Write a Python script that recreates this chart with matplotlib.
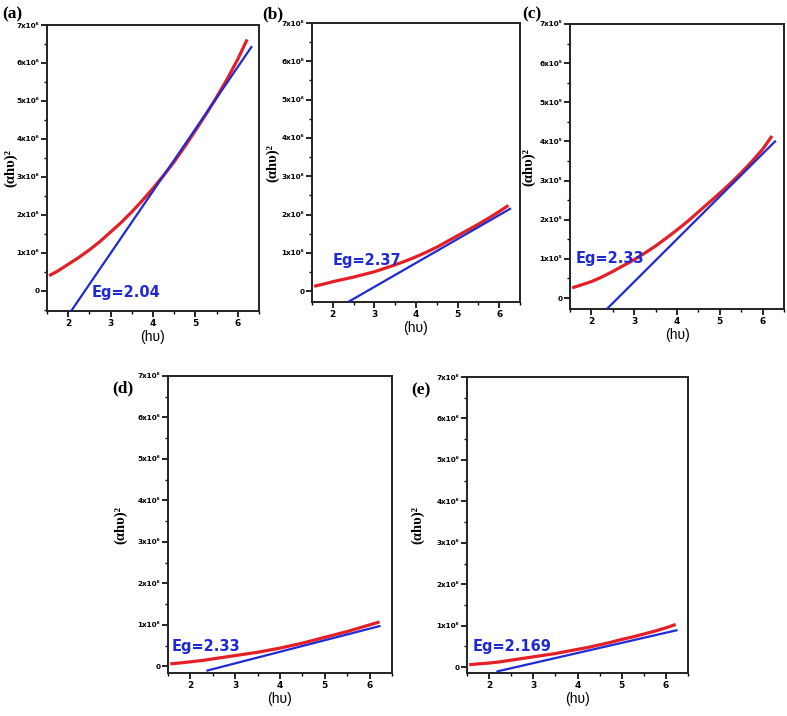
import matplotlib
matplotlib.use("Agg")
import matplotlib.pyplot as plt
from matplotlib.ticker import MultipleLocator, FuncFormatter

# ---------------- data ----------------
x_red = [1.55, 1.75, 2.0, 2.25, 2.5, 2.75, 3.0, 3.25, 3.5, 3.75,
         4.0, 4.25, 4.5, 4.75, 5.0, 5.25, 5.5, 5.75, 6.0, 6.22]

red_a = [0.40e6, 0.52e6, 0.70e6, 0.88e6, 1.08e6, 1.30e6, 1.55e6, 1.80e6, 2.08e6, 2.38e6,
         2.70e6, 3.04e6, 3.40e6, 3.80e6, 4.22e6, 4.65e6, 5.10e6, 5.58e6, 6.10e6, 6.62e6]
red_b = [0.13e6, 0.18e6, 0.25e6, 0.31e6, 0.37e6, 0.44e6, 0.51e6, 0.60e6, 0.69e6, 0.79e6,
         0.90e6, 1.02e6, 1.15e6, 1.30e6, 1.45e6, 1.60e6, 1.75e6, 1.91e6, 2.08e6, 2.24e6]
red_c = [0.26e5, 0.33e5, 0.42e5, 0.54e5, 0.68e5, 0.83e5, 0.98e5, 1.15e5, 1.33e5, 1.53e5,
         1.74e5, 1.96e5, 2.20e5, 2.44e5, 2.68e5, 2.93e5, 3.20e5, 3.49e5, 3.80e5, 4.14e5]
red_d = [0.06e6, 0.08e6, 0.11e6, 0.14e6, 0.18e6, 0.22e6, 0.26e6, 0.30e6, 0.34e6, 0.39e6,
         0.44e6, 0.50e6, 0.56e6, 0.63e6, 0.70e6, 0.77e6, 0.84e6, 0.92e6, 1.00e6, 1.07e6]
red_e = [0.06e6, 0.08e6, 0.10e6, 0.13e6, 0.17e6, 0.21e6, 0.25e6, 0.29e6, 0.33e6, 0.38e6,
         0.43e6, 0.48e6, 0.54e6, 0.60e6, 0.67e6, 0.73e6, 0.80e6, 0.87e6, 0.95e6, 1.03e6]

blue_a_x = [2.07, 6.32]; blue_a_y = [-0.53e6, 6.42e6]
blue_b_x = [2.40, 6.26]; blue_b_y = [-0.26e6, 2.15e6]
blue_c_x = [2.38, 6.29]; blue_c_y = [-0.26e5, 4.00e5]
blue_d_x = [2.38, 6.22]; blue_d_y = [-0.10e6, 0.97e6]
blue_e_x = [2.19, 6.24]; blue_e_y = [-0.10e6, 0.89e6]

eg_labels = ["Eg=2.04", "Eg=2.37", "Eg=2.33", "Eg=2.33", "Eg=2.169"]
eg_pos = [(2.55, -0.05e6), (2.0, 0.81e6), (1.63, 1.02e5), (1.59, 0.47e6), (1.62, 0.50e6)]
panel_tags = ["(a)", "(b)", "(c)", "(d)", "(e)"]
exponents = [6, 6, 5, 6, 6]
ymins = [-0.53e6, -0.28e6, -0.28e5, -0.16e6, -0.14e6]
y_top_units = 7

# ---------------- layout (pixels) ----------------
W, H = 787, 716
boxes = [(47, 259, 25, 311), (312, 520, 23, 302), (570, 784, 24, 309),
         (168, 392, 376, 673), (467, 688, 377, 673)]
tag_pos = [(2, 14), (262, 14), (522, 14), (112, 388), (411, 390)]
ylab_x = [11, 273, 529, 121, 418]

RED = "#e41f26"
BLUE = "#1f2ad6"
NARROW = ["Liberation Sans Narrow", "DejaVu Sans Condensed", "DejaVu Sans"]
SUP = str.maketrans("0123456789", "\u2070\u00b9\u00b2\u00b3\u2074\u2075\u2076\u2077\u2078\u2079")

fig = plt.figure(figsize=(W / 100, H / 100), dpi=100)

reds = [red_a, red_b, red_c, red_d, red_e]
blues = [(blue_a_x, blue_a_y), (blue_b_x, blue_b_y), (blue_c_x, blue_c_y),
         (blue_d_x, blue_d_y), (blue_e_x, blue_e_y)]

for i in range(5):
    l, r, t, b = boxes[i]
    ax = fig.add_axes([l / W, 1 - b / H, (r - l) / W, (b - t) / H])
    e = exponents[i]
    s = 10 ** e
    ax.plot(x_red, reds[i], color=RED, lw=2.3, solid_capstyle="butt", zorder=3)
    ax.plot(blues[i][0], blues[i][1], color=BLUE, lw=1.6, zorder=4)
    ax.set_xlim(1.5, 6.5)
    ax.set_ylim(ymins[i], y_top_units * s)
    ax.xaxis.set_major_locator(MultipleLocator(1))
    ax.xaxis.set_minor_locator(MultipleLocator(0.5))
    ax.yaxis.set_major_locator(MultipleLocator(s))
    ax.yaxis.set_minor_locator(MultipleLocator(0.5 * s))

    def fmt(v, pos, s=s, e=e):
        k = int(round(v / s))
        if k == 0:
            return "0"
        return "%dx10%s" % (k, str(e).translate(SUP))

    ax.yaxis.set_major_formatter(FuncFormatter(fmt))
    ax.xaxis.set_major_formatter(FuncFormatter(lambda v, p: "%d" % round(v)))
    ax.tick_params(which="major", direction="out", length=4, width=1.2, pad=1.5)
    ax.tick_params(which="minor", direction="out", length=2.5, width=1.0)
    for lab in ax.get_yticklabels():
        lab.set_family(NARROW)
        lab.set_fontweight("bold")
        lab.set_fontsize(5.2)
    for lab in ax.get_xticklabels():
        lab.set_family(NARROW)
        lab.set_fontweight("bold")
        lab.set_fontsize(6.5)
    for sp in ax.spines.values():
        sp.set_linewidth(1.4)
        sp.set_color("#222222")
    ax.text(eg_pos[i][0], eg_pos[i][1], eg_labels[i], color=BLUE, fontsize=10.5,
            fontweight="bold", family=NARROW, ha="left", va="center", zorder=5)
    ax.set_xlabel("(h\u03c5)", fontsize=10, family=["Liberation Sans", "DejaVu Sans"], labelpad=2)
    fig.text(ylab_x[i] / W, 1 - ((t + b) / 2) / H, "(\u03b1h\u03c5)\u00b2", rotation=90,
             fontsize=10.5, fontweight="bold", family=["Liberation Serif", "DejaVu Serif"],
             ha="center", va="center")
    fig.text(tag_pos[i][0] / W, 1 - tag_pos[i][1] / H, panel_tags[i], fontsize=12.5,
             fontweight="bold", family=["Liberation Serif", "DejaVu Serif"],
             ha="left", va="center")

fig.savefig("out.png", dpi=100)
